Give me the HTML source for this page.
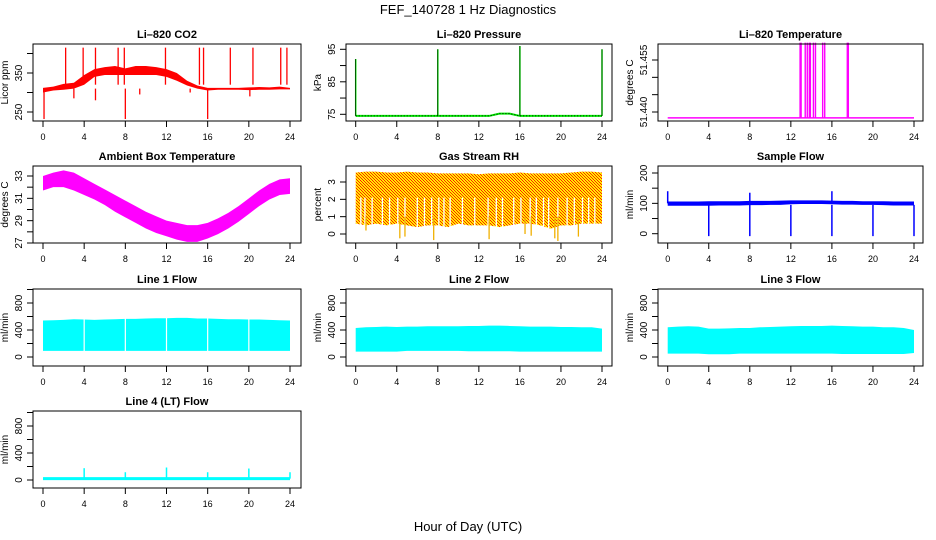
<!DOCTYPE html>
<html><head><meta charset="utf-8"><style>
html,body{margin:0;padding:0;background:#fff;}
svg{display:block;font-family:"Liberation Sans",Arial,sans-serif;}
</style></head><body>
<svg id="chart" width="936" height="540" viewBox="0 0 936 540" xmlns="http://www.w3.org/2000/svg">
<defs>
<pattern id="rhpat" width="3" height="3" patternUnits="userSpaceOnUse">
<rect width="3" height="3" fill="#ffee00"/><rect width="1" height="1" fill="#ff2000"/><rect x="1" y="1" width="1" height="1" fill="#ff2000"/><rect x="2" y="2" width="1" height="1" fill="#ff2000"/>
</pattern>
</defs>
<text x="468" y="14" font-size="13" text-anchor="middle">FEF_140728  1 Hz Diagnostics</text>
<text x="468" y="531" font-size="13" text-anchor="middle">Hour of Day (UTC)</text>
</svg>
<script>
// ---- data arrays (hourly, hours 0..24) ----
const hours = [0,1,2,3,4,5,6,7,8,9,10,11,12,13,14,15,16,17,18,19,20,21,22,23,24];
const co2Lo = [300,305,307,310,320,340,345,345,345,345,345,345,340,330,318,310,305,307,307,307,306,307,307,308,308];
const co2Hi = [312,315,322,325,345,360,365,368,362,368,368,365,360,350,330,318,312,312,312,312,313,314,313,315,312];
const co2SpikeHours = [2.2,3.9,5.1,7.3,7.9,11.9,15.2,15.6,18.2,20.4,23.1,23.7];
const co2SpikeVals = [415,415,415,415,415,415,415,415,415,415,415,415];
const co2DipHours = [0.1,8.0,16.0,5.1,3.0,9.4,14.3,20.1];
const co2DipVals = [232,232,232,280,285,295,300,290];

const presBase = [74.5,74.5,74.5,74.5,74.5,74.5,74.5,74.5,74.5,74.5,74.5,74.5,74.5,74.5,75.2,75.2,74.5,74.5,74.5,74.5,74.5,74.5,74.5,74.5,74.5];
const presSpikeHours = [0,8,16,24];
const presSpikeVals = [92,95,96,95];

const tempBase = 51.4383;
const tempSpikeHours = [12.9,13.0,13.4,13.6,13.8,13.9,14.2,14.4,15.1,15.3,17.5,17.6];
const tempSpikeVals = [51.46,51.46,51.46,51.46,51.46,51.46,51.46,51.46,51.46,51.46,51.46,51.46];

const ambLo = [31.7,32.0,32.0,31.7,31.3,30.9,30.4,29.8,29.3,28.8,28.3,27.9,27.6,27.3,27.1,27.1,27.4,27.8,28.3,28.9,29.6,30.3,30.9,31.3,31.4];
const ambHi = [33.0,33.3,33.5,33.3,32.8,32.3,31.8,31.3,30.8,30.3,29.8,29.4,29.0,28.8,28.6,28.6,28.8,29.2,29.7,30.3,31.0,31.7,32.3,32.7,32.8];

const rhHi = [3.55,3.6,3.6,3.55,3.55,3.6,3.55,3.55,3.5,3.5,3.5,3.5,3.45,3.5,3.5,3.5,3.55,3.5,3.5,3.5,3.5,3.55,3.6,3.6,3.55];
const rhLo = [0.6,0.5,0.6,0.5,0.6,0.5,0.4,0.5,0.5,0.4,0.6,0.5,0.5,0.5,0.4,0.5,0.6,0.6,0.5,0.3,0.5,0.5,0.6,0.6,0.6];
const rhGapHours = [0.5,0.9,1.6,2.6,3.3,4.1,4.8,6.0,6.7,7.4,8.1,8.6,9.2,10.4,11.6,12.9,13.7,14.3,15.4,16.1,17.0,17.6,18.3,18.8,19.7,20.6,21.3,22.1,22.7,23.3];
const rhStreakHours = [1.0,4.3,4.8,7.6,13.0,17.1,19.4,19.7,21.7,16.5];
const rhStreakVals = [0.2,-0.25,-0.15,-0.35,-0.3,-0.1,-0.25,-0.4,-0.15,0.0];

const flowLo = [92,92,92,92,92,93,93,93,94,94,95,95,97,98,98,98,97,96,96,95,95,94,93,93,93];
const flowHi = [106,106,106,106,107,107,107,107,108,108,108,109,110,110,110,110,109,108,108,107,107,107,106,106,106];
const flowSpikeHours = [0,8,16];
const flowSpikeVals = [140,135,140];
const flowDipHours = [4,8,12,16,20,24];
const flowDipVals = [-8,-8,-8,-8,-8,-8];

const line1Lo = [90,90,90,90,90,90,90,90,90,90,90,90,90,90,90,90,90,90,90,90,90,90,90,90,90];
const line1Hi = [540,545,550,560,555,550,555,560,565,565,570,575,575,580,580,570,570,565,560,560,555,555,550,545,540];
const line2Lo = [80,80,80,80,80,90,90,90,90,90,90,85,85,85,85,85,80,80,80,80,80,80,80,80,80];
const line2Hi = [430,440,445,450,445,450,450,455,455,455,455,460,460,465,465,460,455,450,450,450,445,445,440,440,420];
const line3Lo = [50,50,50,50,40,40,40,50,50,50,50,50,50,50,50,50,50,45,45,45,45,45,45,45,60];
const line3Hi = [440,450,455,450,420,420,425,430,430,440,445,450,455,460,460,460,465,460,455,450,450,440,440,430,400];
const flowGapHours = [4,8,12,16,20];
const line4Base = [20,20,20,20,20,20,20,20,20,20,20,20,20,20,20,20,20,20,20,20,20,20,20,20,20];
const line4SpikeHours = [4.0,8.0,12.0,16.0,20.0,24.0];
const line4SpikeVals = [175,115,185,115,170,115];

// ---- layout ----
const svg = document.getElementById('chart');
const NS = 'http://www.w3.org/2000/svg';
const cols = [{l:33,r:301,x0:43,x24:290},{l:346,r:612,x0:355.7,x24:602},{l:658,r:923,x0:667.7,x24:914}];
const rows = [{t:44,b:121},{t:166,b:243},{t:289,b:366},{t:411,b:488}];

function mk(tag, attrs, parent){
  const e = document.createElementNS(NS, tag);
  for (const k in attrs) e.setAttribute(k, attrs[k]);
  (parent||svg).appendChild(e);
  return e;
}

function panel(name, title, ci, ri, v1, y1off, v2, y2off, ticks, labels, ylab){
  const c = cols[ci], r = rows[ri];
  const g = mk('g', {});
  
  
  const sx = h => c.x0 + h*(c.x24-c.x0)/24;
  const ya = r.t + y1off, yb = r.t + y2off;
  const sy = v => ya + (v - v1)*(yb-ya)/(v2 - v1);
  const t = mk('text', {x:(c.l+c.r)/2, y:r.t-6, 'font-size':11, 'font-weight':'bold', 'text-anchor':'middle'}, g);
  t.textContent = title;
  
  
  const xa = mk('g', {}, g);
  
  
  for (let h=0; h<=24; h+=4){
    mk('line', {x1:sx(h), x2:sx(h), y1:r.b, y2:r.b+6, stroke:'#000'}, xa);
    const tl = mk('text', {x:sx(h), y:r.b+19, 'font-size':9, 'text-anchor':'middle'}, xa);
    tl.textContent = h;
  }
  const ya2 = mk('g', {}, g);
  
  
  ticks.forEach(v => {
    mk('line', {x1:c.l-6, x2:c.l, y1:sy(v), y2:sy(v), stroke:'#000'}, ya2);
  });
  labels.forEach(v => {
    const tx = c.l-11, ty = sy(v);
    const tl = mk('text', {x:tx, y:ty, 'font-size':10, 'text-anchor':'middle', transform:`rotate(-90 ${tx} ${ty})`}, ya2);
    tl.textContent = typeof v === 'number' && ci===2 && ri===0 ? v.toFixed(3) : v;
  });
  const ytx = c.l-25, yty = (r.t+r.b)/2;
  const yt = mk('text', {x:ytx, y:yty, 'font-size':10, 'text-anchor':'middle', transform:`rotate(-90 ${ytx} ${yty})`}, ya2);
  yt.textContent = ylab;
  
  
  const plot = mk('g', {}, g);
  
  
  const frame = mk('rect', {x:c.l, y:r.t, width:c.r-c.l, height:r.b-r.t, fill:'none', stroke:'#000'}, g);
  
  
  return {sx, sy, plot, c, r};
}

function band(p, lo, hi, fill){
  const pts = [];
  hours.forEach((h,i) => pts.push(p.sx(h)+','+p.sy(hi[i])));
  for (let i=hours.length-1;i>=0;i--) pts.push(p.sx(hours[i])+','+p.sy(lo[i]));
  const e = mk('polygon', {points:pts.join(' '), fill:fill, stroke:'none'}, p.plot);
  
  
}
function lineSeries(p, vals, color, w, dash){
  const pts = hours.map((h,i) => p.sx(h)+','+p.sy(vals[i])).join(' ');
  const e = mk('polyline', {points:pts, fill:'none', stroke:color, 'stroke-width':w}, p.plot);
  if (dash) e.setAttribute('stroke-dasharray', dash);
  
  
}
function spikes(p, hs, vs, base, color, w){
  hs.forEach((h,i) => {
    const e = mk('line', {x1:p.sx(h), x2:p.sx(h), y1:p.sy(base), y2:p.sy(vs[i]), stroke:color, 'stroke-width':w}, p.plot);
    
    
  });
}

// CO2
let p = panel('co2', 'Li\u2013820 CO2', 0, 0, 250, 68, 350, 29, [250,300,350,400], [250,350], 'Licor ppm');
band(p, co2Lo, co2Hi, '#ff0000');
spikes(p, co2SpikeHours, co2SpikeVals, 320, '#ff0000', 1.3);
spikes(p, co2DipHours, co2DipVals, 310, '#ff0000', 1.3);
// Pressure
p = panel('pressure', 'Li\u2013820 Pressure', 1, 0, 95, 5.3, 75, 70.3, [75,80,85,90,95], [75,85,95], 'kPa');
lineSeries(p, presBase, '#00ee00', 2);
spikes(p, presSpikeHours, presSpikeVals, 74.5, '#00ee00', 1.5);
lineSeries(p, presBase, '#000', 1, '1,2');
spikes(p, presSpikeHours, presSpikeVals, 74.5, '#000', 0.6);
// Temperature
p = panel('li820-temp', 'Li\u2013820 Temperature', 2, 0, 51.455, 16, 51.44, 68, [51.44,51.445,51.45,51.455], [51.44,51.455], 'degrees C');
mk('line', {x1:p.sx(0), x2:p.sx(24), y1:p.sy(tempBase), y2:p.sy(tempBase), stroke:'#ff00ff', 'stroke-width':1.5}, p.plot);
spikes(p, tempSpikeHours, tempSpikeVals, tempBase, '#ff00ff', 1.4);
// Ambient
p = panel('ambient-temp', 'Ambient Box Temperature', 0, 1, 33, 10, 27, 77, [27,28,29,30,31,32,33], [27,29,31,33], 'degrees C');
band(p, ambLo, ambHi, '#ff00ff');
// RH
p = panel('gas-rh', 'Gas Stream RH', 1, 1, 3, 16, 0, 68, [0,1,2,3], [0,1,2,3], 'percent');
band(p, rhLo, rhHi, 'url(#rhpat)');
rhGapHours.forEach(h => {
  const e = mk('line', {x1:p.sx(h), x2:p.sx(h), y1:p.sy(0.3), y2:p.sy(2.1), stroke:'#fff', 'stroke-width':1.3}, p.plot);
  
  
});
spikes(p, rhStreakHours, rhStreakVals, 1.0, '#f0b000', 1.3);
// Sample flow
p = panel('sample-flow', 'Sample Flow', 2, 1, 200, 7, 0, 67.7, [0,50,100,150,200], [0,100,200], 'ml/min');
band(p, flowLo, flowHi, '#0000ff');
spikes(p, flowSpikeHours, flowSpikeVals, 100, '#0000ff', 1.5);
spikes(p, flowDipHours, flowDipVals, 95, '#0000ff', 1.5);
// Lines 1-3
const lineCfg = [['line1-flow','Line 1 Flow',0,line1Lo,line1Hi],['line2-flow','Line 2 Flow',1,line2Lo,line2Hi],['line3-flow','Line 3 Flow',2,line3Lo,line3Hi]];
lineCfg.forEach(cfg => {
  const q = panel(cfg[0], cfg[1], cfg[2], 2, 0, 68, 800, 14, [0,200,400,600,800,1000], [0,400,800], 'ml/min');
  band(q, cfg[3], cfg[4], '#00ffff');
  if (cfg[2] === 0) flowGapHours.forEach(h => {
    const e = mk('line', {x1:q.sx(h), x2:q.sx(h), y1:q.sy(60), y2:q.sy(600), stroke:'#fff', 'stroke-width':1.2}, q.plot);
    
    
  });
});
// Line 4
p = panel('line4-flow', 'Line 4 (LT) Flow', 0, 3, 0, 69, 800, 15, [0,200,400,600,800,1000], [0,400,800], 'ml/min');
lineSeries(p, line4Base, '#00ffff', 3);
spikes(p, line4SpikeHours, line4SpikeVals, 20, '#00ffff', 1.5);
</script>
</body></html>
